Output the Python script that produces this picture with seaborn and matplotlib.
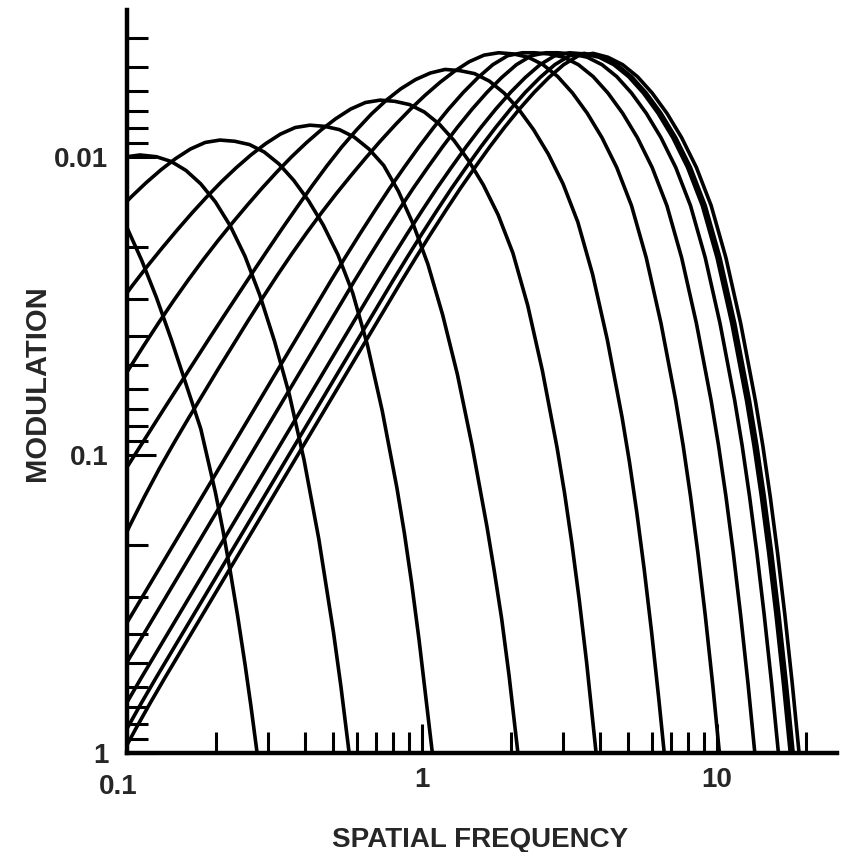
import numpy as np
import pandas as pd
import matplotlib
matplotlib.use("Agg")
import matplotlib.pyplot as plt
from matplotlib.ticker import FixedLocator, FixedFormatter, LogLocator, NullFormatter
import seaborn as sns

# Threshold modulation curves, stored as log10 values:
# log_freq_k = log10(spatial frequency), log_mod_k = log10(modulation) along curve k
log_freq_0 = [-1.05, -1.00, -0.95, -0.90, -0.85, -0.80, -0.75, -0.70, -0.675, -0.65, -0.625, -0.60, -0.58, -0.559]
log_mod_0 = [-1.843, -1.763, -1.653, -1.528, -1.388, -1.238, -1.088, -0.873, -0.748, -0.610, -0.460, -0.298, -0.158, 0.0]

log_freq_1 = [-1.05, -1.00, -0.956, -0.90, -0.85, -0.80, -0.75, -0.70, -0.65, -0.60, -0.55, -0.50, -0.45, -0.40,
              -0.35, -0.30, -0.275, -0.247]
log_mod_1 = [-1.980, -2.001, -2.007, -2.001, -1.985, -1.955, -1.910, -1.849, -1.769, -1.667, -1.537, -1.382, -1.204,
             -0.984, -0.719, -0.404, -0.224, 0.0]

log_freq_2 = [-1.035, -0.985, -0.935, -0.885, -0.835, -0.785, -0.735, -0.685, -0.635, -0.585, -0.535, -0.485, -0.435,
              -0.385, -0.335, -0.285, -0.235, -0.185, -0.135, -0.085, -0.060, -0.035, -0.010, 0.015, 0.035]
log_mod_2 = [-1.816, -1.867, -1.914, -1.957, -1.995, -2.027, -2.049, -2.057, -2.053, -2.042, -2.017, -1.977, -1.922,
             -1.854, -1.772, -1.672, -1.544, -1.369, -1.149, -0.889, -0.739, -0.569, -0.379, -0.169, 0.0]

log_freq_3 = [-1.08, -1.03, -0.98, -0.93, -0.88, -0.83, -0.78, -0.73, -0.68, -0.63, -0.58, -0.53, -0.48, -0.43, -0.38,
              -0.33, -0.28, -0.23, -0.18, -0.13, -0.08, -0.03, 0.02, 0.07, 0.12, 0.17, 0.22, 0.245, 0.27, 0.295, 0.325]
log_mod_3 = [-1.434, -1.504, -1.571, -1.635, -1.696, -1.755, -1.812, -1.866, -1.917, -1.964, -2.007, -2.045, -2.077,
             -2.099, -2.107, -2.103, -2.092, -2.067, -2.027, -1.972, -1.885, -1.775, -1.640, -1.470, -1.270, -1.030,
             -0.760, -0.610, -0.450, -0.260, 0.0]

log_freq_4 = [-1.042, -0.992, -0.942, -0.892, -0.842, -0.792, -0.742, -0.692, -0.642, -0.592, -0.542, -0.492, -0.442,
              -0.392, -0.342, -0.292, -0.242, -0.192, -0.142, -0.092, -0.042, 0.008, 0.058, 0.108, 0.158, 0.208,
              0.258, 0.308, 0.358, 0.408, 0.458, 0.483, 0.508, 0.533, 0.558, 0.590]
log_mod_4 = [-1.211, -1.291, -1.369, -1.445, -1.518, -1.588, -1.655, -1.719, -1.780, -1.839, -1.896, -1.950, -2.001,
             -2.048, -2.091, -2.129, -2.161, -2.183, -2.191, -2.187, -2.176, -2.151, -2.111, -2.056, -1.988, -1.906,
             -1.806, -1.678, -1.503, -1.283, -1.023, -0.873, -0.703, -0.513, -0.303, 0.0]

log_freq_5 = [-1.072, -1.022, -0.972, -0.922, -0.872, -0.822, -0.772, -0.722, -0.672, -0.622, -0.572, -0.522, -0.472,
              -0.422, -0.372, -0.322, -0.272, -0.222, -0.172, -0.122, -0.072, -0.022, 0.028, 0.078, 0.128, 0.178,
              0.228, 0.278, 0.328, 0.378, 0.428, 0.478, 0.528, 0.578, 0.628, 0.678, 0.703, 0.728, 0.753, 0.778,
              0.803, 0.821]
log_mod_5 = [-0.847, -0.925, -1.003, -1.081, -1.159, -1.236, -1.313, -1.390, -1.466, -1.541, -1.616, -1.690, -1.763,
             -1.834, -1.904, -1.971, -2.034, -2.091, -2.144, -2.190, -2.229, -2.260, -2.282, -2.294, -2.290, -2.280,
             -2.255, -2.215, -2.160, -2.092, -2.010, -1.910, -1.782, -1.607, -1.387, -1.127, -0.977, -0.807, -0.617,
             -0.407, -0.177, 0.0]

log_freq_6 = [-1.04, -0.99, -0.94, -0.89, -0.84, -0.79, -0.74, -0.69, -0.64, -0.59, -0.54, -0.49, -0.44, -0.39,
              -0.34, -0.29, -0.24, -0.19, -0.14, -0.09, -0.04, 0.01, 0.06, 0.11, 0.16, 0.21, 0.26,
              0.31, 0.36, 0.41, 0.46, 0.51, 0.56, 0.61, 0.66, 0.71, 0.76, 0.81, 0.86, 0.885, 0.91, 0.935, 0.96,
              0.985, 1.008]
log_mod_6 = [-0.660, -0.764, -0.862, -0.955, -1.042, -1.126, -1.208, -1.290, -1.370, -1.450, -1.528, -1.604, -1.677,
             -1.747, -1.814, -1.878, -1.939, -1.998, -2.055, -2.109, -2.160, -2.207, -2.250, -2.288, -2.320, -2.342,
             -2.350, -2.346, -2.335, -2.310, -2.270, -2.215, -2.147, -2.065, -1.965, -1.837, -1.662, -1.442, -1.182,
             -1.032, -0.862, -0.672, -0.462, -0.232, 0.0]

log_freq_7 = [-1.06, -1.01, -0.96, -0.91, -0.86, -0.81, -0.76, -0.71, -0.66, -0.61, -0.56, -0.51, -0.46, -0.41,
              -0.36, -0.31, -0.26, -0.21, -0.16, -0.11, -0.06, -0.01, 0.04, 0.09, 0.14, 0.19, 0.24, 0.29, 0.34,
              0.38, 0.43, 0.48, 0.53, 0.58, 0.63, 0.68, 0.73, 0.78, 0.83, 0.88, 0.93, 0.98, 1.005, 1.03, 1.055,
              1.08, 1.105, 1.128]
log_mod_7 = [-0.338, -0.421, -0.504, -0.587, -0.670, -0.753, -0.836, -0.919, -1.002, -1.085, -1.168, -1.251, -1.334,
             -1.417, -1.500, -1.583, -1.664, -1.743, -1.820, -1.895, -1.966, -2.035, -2.100, -2.161, -2.217, -2.267,
             -2.310, -2.340, -2.350, -2.350, -2.346, -2.335, -2.310, -2.270, -2.215, -2.147, -2.065, -1.965, -1.837,
             -1.662, -1.442, -1.182, -1.032, -0.862, -0.672, -0.462, -0.232, 0.0]

log_freq_8 = [-1.03, -0.98, -0.93, -0.88, -0.83, -0.78, -0.73, -0.68, -0.63, -0.58, -0.53, -0.48, -0.43, -0.38,
              -0.33, -0.28, -0.23, -0.18, -0.13, -0.08, -0.03, 0.02, 0.07, 0.12, 0.17, 0.22, 0.27, 0.32, 0.37, 0.42,
              0.46, 0.51, 0.56, 0.61, 0.66, 0.71, 0.76, 0.81, 0.86, 0.91, 0.96, 1.01, 1.06, 1.085, 1.11, 1.135,
              1.16, 1.185, 1.208]
log_mod_8 = [-0.255, -0.338, -0.421, -0.504, -0.587, -0.670, -0.753, -0.836, -0.919, -1.002, -1.085, -1.168, -1.251,
             -1.334, -1.417, -1.500, -1.583, -1.664, -1.743, -1.820, -1.895, -1.966, -2.035, -2.100, -2.161, -2.217,
             -2.267, -2.310, -2.340, -2.350, -2.350, -2.346, -2.335, -2.310, -2.270, -2.215, -2.147, -2.065, -1.965,
             -1.837, -1.662, -1.442, -1.182, -1.032, -0.862, -0.672, -0.462, -0.232, 0.0]

log_freq_9 = [-1.05, -1.00, -0.95, -0.90, -0.85, -0.80, -0.75, -0.70, -0.65, -0.60, -0.55, -0.50, -0.45, -0.40,
              -0.35, -0.30, -0.25, -0.20, -0.15, -0.10, -0.05, 0.00, 0.05, 0.10, 0.15, 0.20, 0.25, 0.30, 0.35, 0.40,
              0.45, 0.50, 0.55, 0.60, 0.65, 0.70, 0.75, 0.80, 0.85, 0.90, 0.95, 1.00, 1.05, 1.10, 1.125, 1.15,
              1.175, 1.20, 1.225, 1.248]
log_mod_9 = [-0.082, -0.170, -0.255, -0.338, -0.421, -0.504, -0.587, -0.670, -0.753, -0.836, -0.919, -1.002, -1.085,
             -1.168, -1.251, -1.334, -1.417, -1.500, -1.583, -1.664, -1.743, -1.820, -1.895, -1.966, -2.035, -2.100,
             -2.161, -2.217, -2.267, -2.310, -2.340, -2.350, -2.346, -2.335, -2.310, -2.270, -2.215, -2.147, -2.065,
             -1.965, -1.837, -1.662, -1.442, -1.182, -1.032, -0.862, -0.672, -0.462, -0.232, 0.0]

log_freq_10 = [-1.05, -1.00, -0.95, -0.90, -0.85, -0.80, -0.75, -0.70, -0.65, -0.60, -0.55, -0.50, -0.45, -0.40,
               -0.35, -0.30, -0.25, -0.20, -0.15, -0.10, -0.05, 0.00, 0.05, 0.10, 0.15, 0.20, 0.25, 0.30, 0.35,
               0.40, 0.45, 0.50, 0.55, 0.61, 0.66, 0.71, 0.76, 0.81, 0.86, 0.91, 0.96, 1.01, 1.06, 1.11, 1.135,
               1.16, 1.185, 1.21, 1.235, 1.258]
log_mod_10 = [0.010, -0.082, -0.170, -0.255, -0.338, -0.421, -0.504, -0.587, -0.670, -0.753, -0.836, -0.919, -1.002,
              -1.085, -1.168, -1.251, -1.334, -1.417, -1.500, -1.583, -1.664, -1.743, -1.820, -1.895, -1.966, -2.035,
              -2.100, -2.161, -2.217, -2.267, -2.310, -2.340, -2.348, -2.335, -2.310, -2.270, -2.215, -2.147, -2.065,
              -1.965, -1.837, -1.662, -1.442, -1.182, -1.032, -0.862, -0.672, -0.462, -0.232, 0.0]

log_freq_11 = [-1.07, -1.02, -0.97, -0.92, -0.87, -0.82, -0.77, -0.72, -0.67, -0.62, -0.57, -0.52, -0.47, -0.42,
               -0.37, -0.32, -0.27, -0.22, -0.17, -0.12, -0.07, -0.02, 0.03, 0.08, 0.13, 0.18, 0.23, 0.28, 0.33,
               0.38, 0.43, 0.48, 0.53, 0.58, 0.63, 0.68, 0.73, 0.78, 0.83, 0.88, 0.93, 0.98, 1.03, 1.08, 1.13,
               1.155, 1.18, 1.205, 1.23, 1.255, 1.278]
log_mod_11 = [0.105, 0.010, -0.082, -0.170, -0.255, -0.338, -0.421, -0.504, -0.587, -0.670, -0.753, -0.836, -0.919,
              -1.002, -1.085, -1.168, -1.251, -1.334, -1.417, -1.500, -1.583, -1.664, -1.743, -1.820, -1.895, -1.966,
              -2.035, -2.100, -2.161, -2.217, -2.267, -2.310, -2.340, -2.348, -2.335, -2.310, -2.270, -2.215, -2.147,
              -2.065, -1.965, -1.837, -1.662, -1.442, -1.182, -1.032, -0.862, -0.672, -0.462, -0.232, 0.0]

x_tick_values = [0.1, 1, 10]
x_tick_labels = ["0.1", "1", "10"]
y_tick_values = [0.01, 0.1, 1]
y_tick_labels = ["0.01", "0.1", "1"]
x_title = "SPATIAL FREQUENCY"
y_title = "MODULATION"

log_freqs = [log_freq_0, log_freq_1, log_freq_2, log_freq_3, log_freq_4, log_freq_5,
             log_freq_6, log_freq_7, log_freq_8, log_freq_9, log_freq_10, log_freq_11]
log_mods = [log_mod_0, log_mod_1, log_mod_2, log_mod_3, log_mod_4, log_mod_5,
            log_mod_6, log_mod_7, log_mod_8, log_mod_9, log_mod_10, log_mod_11]

df = pd.concat(
    [pd.DataFrame({"curve": i,
                   "frequency": 10.0 ** np.asarray(lf),
                   "modulation": 10.0 ** np.asarray(lm)})
     for i, (lf, lm) in enumerate(zip(log_freqs, log_mods))],
    ignore_index=True,
)

sns.set_style("ticks")
plt.rcParams["font.family"] = ["Liberation Sans", "DejaVu Sans"]
plt.rcParams["font.weight"] = "bold"

fig = plt.figure(figsize=(8.44, 8.52), dpi=100)
ax = fig.add_axes([127 / 844, 1 - 753 / 852, 710 / 844, 743 / 852])
ax.set_xscale("log")
ax.set_yscale("log")

sns.lineplot(
    data=df, x="frequency", y="modulation", units="curve", estimator=None,
    sort=False, color="black", linewidth=2.6, legend=False, ax=ax,
)

ax.set_xlim(0.1, 25.5)
ax.set_ylim(1.0, 0.00321)  # smallest modulation at the top
ax.set_xlabel("")
ax.set_ylabel("")

for side in ("top", "right"):
    ax.spines[side].set_visible(False)
for side in ("left", "bottom"):
    ax.spines[side].set_linewidth(3.2)
    ax.spines[side].set_color("black")

ax.xaxis.set_major_locator(FixedLocator(x_tick_values))
ax.xaxis.set_major_formatter(FixedFormatter(["" if v == 0.1 else s for v, s in zip(x_tick_values, x_tick_labels)]))
ax.yaxis.set_major_locator(FixedLocator(y_tick_values))
ax.yaxis.set_major_formatter(FixedFormatter(y_tick_labels))
for axis in (ax.xaxis, ax.yaxis):
    axis.set_minor_locator(LogLocator(base=10, subs=np.arange(2, 10), numticks=20))
    axis.set_minor_formatter(NullFormatter())

ax.tick_params(which="major", direction="in", length=21, width=2.2, color="black", labelsize=20)
ax.tick_params(which="minor", direction="in", length=15, width=2.2, color="black")
ax.tick_params(axis="y", which="major", pad=13.5)
ax.tick_params(axis="x", which="major", pad=10)

# the 0.1 frequency label sits a little below and left of its tick, clear of the "1"
ax.annotate(x_tick_labels[0], xy=(0.1, 1.0), xycoords="data", xytext=(-9, -34),
            textcoords="offset pixels", ha="center", va="center", fontsize=20,
            fontweight="bold", annotation_clip=False)

fig.text(480 / 844, 1 - 840 / 852, x_title, ha="center", va="center",
         fontsize=20, fontweight="bold")
fig.text(37 / 844, 1 - 383 / 852, y_title, ha="center", va="center", rotation=90,
         fontsize=21, fontweight="bold")

fig.savefig("out.png", dpi=100, facecolor="white")
